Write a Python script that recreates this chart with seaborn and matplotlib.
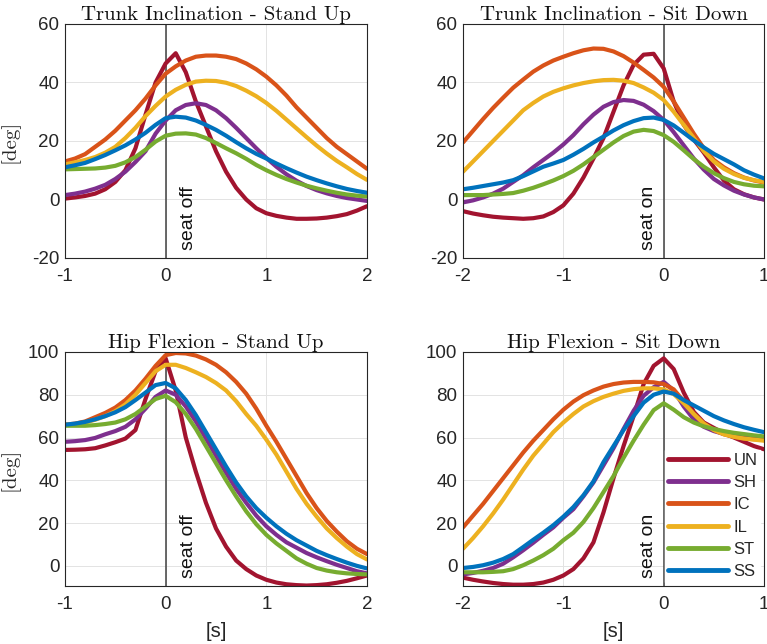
import pandas as pd
import matplotlib
matplotlib.use("Agg")
import matplotlib.pyplot as plt
import seaborn as sns

# groups and colours (MATLAB default order)
groups = ["UN", "SH", "IC", "IL", "ST", "SS"]
colors = ["#A2142F", "#7E2F8E", "#D95319", "#EDB120", "#77AC30", "#0072BD"]

# time axes [s], relative to seat off (stand up) and seat on (sit down)
t_stand = [-1.0, -0.9, -0.8, -0.7, -0.6, -0.5, -0.4, -0.3, -0.2, -0.1, 0.0,
           0.1, 0.2, 0.3, 0.4, 0.5, 0.6, 0.7, 0.8, 0.9, 1.0,
           1.1, 1.2, 1.3, 1.4, 1.5, 1.6, 1.7, 1.8, 1.9, 2.0]
t_sit = [-2.0, -1.9, -1.8, -1.7, -1.6, -1.5, -1.4, -1.3, -1.2, -1.1, -1.0,
         -0.9, -0.8, -0.7, -0.6, -0.5, -0.4, -0.3, -0.2, -0.1, 0.0,
         0.1, 0.2, 0.3, 0.4, 0.5, 0.6, 0.7, 0.8, 0.9, 1.0]

# ---- Trunk Inclination - Stand Up [deg] ----
trunk_up_UN = [0.3, 0.7, 1.2, 2, 3.5, 6, 10, 17.5, 29, 40, 46.5, 50, 43.5, 33.5, 25, 16.5,
               9.5, 4, 0, -3, -4.7, -5.6, -6.2, -6.6, -6.6, -6.5, -6.2, -5.7, -5, -3.8, -2.3]
trunk_up_SH = [1.5, 2, 2.7, 3.7, 5, 7, 9.5, 12.8, 16.5, 22.5, 27, 30.5, 32.3, 32.9, 32.3, 30.5,
               27.8, 24.5, 21, 17.5, 14.2, 11.2, 8.6, 6.4, 4.6, 3.2, 2.1, 1.2, 0.5, 0, -0.5]
trunk_up_IC = [13, 14, 15.5, 18, 20.5, 23.5, 27, 30.5, 34.5, 39, 43, 45.5, 47.5, 48.8, 49.2, 49.2,
               48.8, 48, 46.5, 44.5, 42, 39, 35.5, 31.5, 28, 24.5, 21, 18, 15.5, 13, 10.5]
trunk_up_IL = [12, 12.7, 13.5, 14.5, 16, 18, 21, 24.5, 28.5, 32, 35.2, 37.5, 39.2, 40.3, 40.6, 40.5,
               39.9, 38.8, 37.2, 35.3, 33, 30.3, 27.3, 24.3, 21.3, 18.4, 15.7, 13.2, 11, 8.7, 6.7]
trunk_up_ST = [10.3, 10.4, 10.5, 10.6, 10.9, 11.5, 12.7, 14.5, 17, 19.8, 21.8, 22.5, 22.6, 22.2, 21, 19.3,
               17.5, 15.8, 13.9, 11.8, 10, 8.4, 7, 5.8, 4.7, 3.8, 3, 2.3, 1.7, 1.3, 1]
trunk_up_SS = [11, 11.7, 12.5, 13.8, 15.2, 16.8, 18.5, 20.5, 22.8, 25.5, 27.8, 28.3, 28, 27, 25.5, 23.8,
               21.8, 19.6, 17.5, 15.6, 14, 12.3, 10.7, 9.2, 7.8, 6.6, 5.5, 4.5, 3.6, 2.9, 2.3]

# ---- Trunk Inclination - Sit Down [deg] ----
trunk_down_UN = [-4, -4.8, -5.4, -5.9, -6.2, -6.4, -6.6, -6.4, -5.8, -4.3, -2, 2, 7.5, 14, 21, 30,
                 39, 46, 49.5, 49.8, 44.8, 33.5, 25.5, 20.5, 16, 11, 6.5, 3.5, 1.8, 0.7, 0]
trunk_down_SH = [-1, -0.3, 0.7, 2, 3.7, 6, 8.3, 11, 13.5, 16, 18.8, 22, 25.7, 29, 31.7, 33.3,
                 34, 33.7, 32.4, 30.2, 27.2, 23, 18.5, 14, 10.2, 7, 4.8, 3, 1.7, 0.7, 0]
trunk_down_IC = [19.5, 23.5, 27.5, 31.3, 34.8, 38.2, 41, 43.7, 45.8, 47.5, 48.8, 50, 51, 51.6, 51.5, 50.6,
                 49, 46.8, 44.3, 41.7, 38.5, 33.5, 28, 22.5, 17.5, 13.5, 11, 9, 7.5, 6.5, 5.8]
trunk_down_IL = [9.5, 13, 16.5, 20, 23.5, 27, 30.5, 33, 35.2, 36.8, 38, 39, 39.8, 40.4, 40.8, 40.9,
                 40.6, 39.8, 38.3, 36.5, 34, 30, 25.5, 21, 16.5, 13, 10.5, 8.7, 7.4, 6.6, 6]
trunk_down_ST = [1.5, 1.5, 1.5, 1.7, 1.9, 2.2, 3, 4, 5.2, 6.5, 8, 9.8, 12, 14.5, 17, 19.5,
                 21.7, 23.2, 23.8, 23.4, 22, 19.7, 16.8, 13.8, 11.2, 9, 7.3, 6, 5.2, 4.7, 4.5]
trunk_down_SS = [3.5, 4, 4.6, 5.2, 5.8, 6.6, 8, 9.6, 11.2, 12.3, 13.5, 15.3, 17.3, 19.5, 21.5, 23.6,
                 25.4, 26.8, 27.8, 28, 27.2, 25.3, 22.8, 20.2, 17.8, 15.6, 13.8, 12, 10, 8.5, 7.2]

# ---- Hip Flexion - Stand Up [deg] ----
hip_up_UN = [54.2, 54.3, 54.5, 55, 56.3, 57.8, 59.5, 63.5, 78, 91, 97, 82, 60, 44, 29.5, 17.5,
             9, 2.5, -1.5, -4.5, -6.5, -7.8, -8.6, -9, -9.2, -9, -8.6, -7.9, -7, -5.8, -4.5]
hip_up_SH = [58, 58.3, 58.8, 59.8, 61.5, 63, 65, 68.5, 73.5, 79, 82, 80, 74.5, 67.5, 59.5, 51.5,
             43.5, 36, 29.5, 23.5, 18.5, 14.5, 11, 8.5, 6, 4, 2.2, 0.5, -1, -2.5, -3.5]
hip_up_IC = [66, 66.5, 67.5, 69.5, 71.5, 74, 77.5, 82, 87.5, 93.5, 98.5, 99.5, 99.3, 98.3, 96.5, 94,
             90.5, 86, 80.5, 73.5, 65.5, 58, 50, 42, 34, 27, 21, 16, 11.5, 8, 5.5]
hip_up_IL = [66, 66.3, 67, 68.3, 70, 72.3, 75.5, 80, 85.5, 91, 94, 94, 92.5, 90.5, 88.3, 85.5,
             82, 77, 71, 65.5, 59, 52, 44, 36, 29, 23, 17.5, 13, 9, 5.5, 3]
hip_up_ST = [65.5, 65.5, 65.5, 65.8, 66.3, 67, 68.5, 71, 74.5, 78, 79.5, 76.5, 71, 64, 56, 48,
             40, 32.5, 25.5, 19.5, 14.5, 10.5, 7, 3.5, 1, -1, -2.2, -3, -3.5, -3.8, -4]
hip_up_SS = [66, 66.5, 67.3, 68.5, 70, 71.8, 74.2, 77.5, 81, 84.5, 85.5, 83, 77.5, 70.5, 62.5, 54.5,
             46.5, 39, 32.5, 27, 22.5, 18.5, 15, 12, 9.5, 7, 5, 3.2, 1.5, 0, -1.2]

# ---- Hip Flexion - Sit Down [deg] ----
hip_down_UN = [-5.5, -6.5, -7.3, -8, -8.5, -8.8, -8.8, -8.5, -7.8, -6.5, -4.5, -1.5, 3.5, 11, 25, 41,
               56, 70, 85, 93.5, 97, 92, 81, 72, 67, 64.5, 62, 60, 58, 56, 54.5]
hip_down_SH = [-4, -3.3, -2.3, -1, 1, 4, 7.3, 10.8, 14.5, 18, 22.5, 26.5, 32.5, 39, 47, 55,
               64, 72.5, 79.5, 83.5, 86, 82, 74.5, 68.5, 65, 63, 61.7, 61, 60.5, 60.3, 60]
hip_down_IC = [18, 23.5, 29, 35, 41, 47, 53, 58.5, 63.5, 68.5, 73, 76.8, 79.8, 82, 83.8, 85,
               85.7, 86, 86, 85.8, 85, 82.5, 77, 71, 66.5, 63.5, 61.5, 60.3, 59.6, 59.2, 59]
hip_down_IL = [8, 13, 18.5, 24.5, 31, 38, 45, 51.5, 57, 62.5, 67, 71, 74.5, 77, 79, 80.5,
               81.8, 82.6, 83, 83, 82.5, 80.3, 76, 71, 66.5, 63.5, 61.5, 60.3, 59.5, 59, 58.5]
hip_down_ST = [-3, -3, -3, -2.8, -2.5, -1.5, 0.3, 2.5, 5, 8, 12, 15.5, 20.5, 27, 34.5, 42,
               50.5, 58.5, 66, 72.8, 76, 73, 69.5, 67, 65.2, 64, 63, 62.2, 61.6, 61, 60.5]
hip_down_SS = [-1, -0.5, 0.3, 1.5, 3.2, 5.5, 8.8, 12.2, 15.5, 19, 23, 27.5, 33, 39.5, 48.5, 56,
               63.5, 70, 76.3, 80, 81.5, 80.5, 77.5, 75, 72.5, 70, 68, 66.3, 64.8, 63.6, 62.5]

titles = ["Trunk Inclination - Stand Up", "Trunk Inclination - Sit Down",
          "Hip Flexion - Stand Up", "Hip Flexion - Sit Down"]


def to_long(t, series):
    df = pd.DataFrame({"t": t})
    for g, vals in zip(groups, series):
        df[g] = vals
    return df.melt(id_vars="t", var_name="group", value_name="deg")


panels = [
    (to_long(t_stand, [trunk_up_UN, trunk_up_SH, trunk_up_IC, trunk_up_IL, trunk_up_ST, trunk_up_SS]),
     (-1, 2), (-20, 60), [-20, 0, 20, 40, 60], "seat off"),
    (to_long(t_sit, [trunk_down_UN, trunk_down_SH, trunk_down_IC, trunk_down_IL, trunk_down_ST, trunk_down_SS]),
     (-2, 1), (-20, 60), [-20, 0, 20, 40, 60], "seat on"),
    (to_long(t_stand, [hip_up_UN, hip_up_SH, hip_up_IC, hip_up_IL, hip_up_ST, hip_up_SS]),
     (-1, 2), (-9.4, 100), [0, 20, 40, 60, 80, 100], "seat off"),
    (to_long(t_sit, [hip_down_UN, hip_down_SH, hip_down_IC, hip_down_IL, hip_down_ST, hip_down_SS]),
     (-2, 1), (-9.4, 100), [0, 20, 40, 60, 80, 100], "seat on"),
]

sns.set_theme(style="whitegrid")
plt.rcParams.update({
    "font.family": "Liberation Sans",
    "axes.unicode_minus": False,
    "axes.edgecolor": "#262626",
    "axes.linewidth": 0.8,
    "grid.color": "#e3e3e3",
    "grid.linewidth": 0.7,
    "xtick.color": "#262626",
    "ytick.color": "#262626",
    "xtick.labelsize": 13.5,
    "ytick.labelsize": 13.5,
})

fig = plt.figure(figsize=(7.67, 6.44), dpi=100)
positions = [
    [0.0847, 0.5994, 0.3938, 0.3634],
    [0.6037, 0.5994, 0.3924, 0.3634],
    [0.0847, 0.0901, 0.3938, 0.3634],
    [0.6037, 0.0901, 0.3924, 0.3634],
]

for i, (df, xlim, ylim, yticks, event) in enumerate(panels):
    ax = fig.add_axes(positions[i])
    sns.lineplot(data=df, x="t", y="deg", hue="group", hue_order=groups,
                 palette=colors, linewidth=3, estimator=None, ax=ax,
                 legend=(i == 3))
    ax.axvline(0, color="#404040", linewidth=1.1, zorder=1)
    ax.set_xlim(xlim)
    ax.set_ylim(ylim)
    ax.set_xticks(range(xlim[0], xlim[1] + 1))
    ax.set_yticks(yticks)
    ax.tick_params(axis="x", length=0, pad=7)
    ax.tick_params(axis="y", length=0, pad=4)
    for sp in ax.spines.values():
        sp.set_visible(True)
        sp.set_color("#262626")
    ax.set_title(titles[i], family="cmr10", fontsize=15, pad=3, color="#111111")
    if i >= 2:
        ax.set_xlabel("[s]", fontsize=14.5, color="#262626", labelpad=7)
    else:
        ax.set_xlabel("")
    if i % 2 == 0:
        ax.set_ylabel("[deg]", family="cmr10", fontsize=15, color="#262626")
        ax.yaxis.set_label_coords(-0.15, 0.5)
    else:
        ax.set_ylabel("")
    # event marker text next to the vertical line
    if i % 2 == 0:
        ax.annotate(event, xy=(0, 0.035), xycoords=("data", "axes fraction"),
                    xytext=(10, 0), textcoords="offset points", rotation=90,
                    ha="left", va="bottom", fontsize=14, color="#111111")
    else:
        ax.annotate(event, xy=(0, 0.035), xycoords=("data", "axes fraction"),
                    xytext=(-5, 0), textcoords="offset points", rotation=90,
                    ha="right", va="bottom", fontsize=14, color="#111111")
    if i == 3:
        leg = ax.legend(loc="lower right", frameon=True, fontsize=12,
                        handlelength=3.65, labelspacing=0.44, handletextpad=0.3,
                        borderaxespad=0.25, borderpad=0.15, fancybox=False)
        leg.get_frame().set_facecolor("white")
        leg.get_frame().set_edgecolor("white")
        leg.get_frame().set_alpha(1)
        for line in leg.get_lines():
            line.set_linewidth(3.5)

fig.savefig("out.png", dpi=100)
